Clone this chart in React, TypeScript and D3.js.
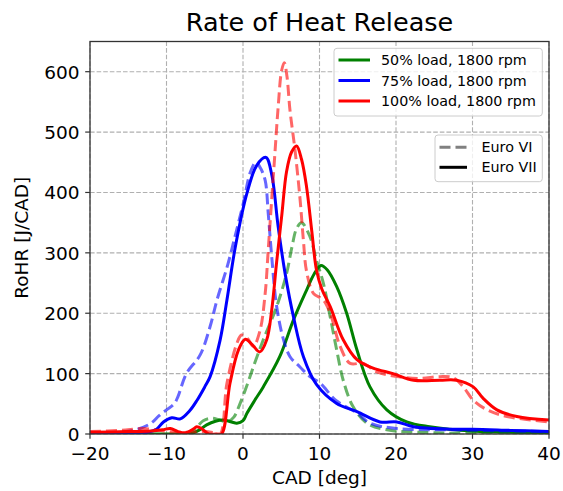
import React from "react";
import * as d3 from "d3";

// ---- data ----
const xTicks = [-20, -10, 0, 10, 20, 30, 40];
const yTicks = [0, 100, 200, 300, 400, 500, 600];

const g7Cad = [-20, -8, -6.9, -5.8, -4.75, -3.6, -2.6, -1.5, -0.8, 0, 0.5, 1.5, 2.65, 4.8, 6.6, 8.3, 9.3, 10.2, 11.0, 12.25, 13.55, 14.9, 16.6, 18.8, 21.4, 24.4, 30, 40];
const g7Val = [0, 0, 0, 6, 15, 21, 23, 20, 18, 22, 34, 55, 78, 128, 189, 238, 265, 279, 272, 244, 200, 139, 78, 40, 20, 12, 5, 2];

const g6Cad = [-20, -8, -7, -6, -5.2, -4.2, -3.2, -2.1, -1.2, -0.4, 0.5, 1.35, 2.65, 4.4, 5.7, 6.4, 7.0, 7.65, 8.75, 9.6, 10.5, 11.4, 12.25, 13.1, 14.4, 16.2, 18.8, 25, 40];
const g6Val = [0, 0, 3, 12, 22, 26, 24, 20, 28, 50, 80, 111, 156, 211, 266, 310, 340, 350, 327, 288, 250, 194, 139, 89, 45, 18, 7, 2, 0];

const b7Cad = [-20, -16, -14, -12.5, -11.3, -10.4, -9.3, -8.2, -7, -6, -5, -4.3, -3, -2.1, -1, 0.5, 1.8, 3.0, 3.75, 4.6, 5.5, 6.6, 7.9, 9.6, 12.2, 14.9, 17.9, 20.1, 22.3, 27, 30, 35, 40];
const b7Val = [2, 2, 2, 3, 8, 20, 27, 25, 38, 56, 78, 95, 155, 222, 310, 398, 445, 458, 430, 343, 266, 194, 128, 82, 51, 37, 20, 20, 12, 8, 8, 6, 4];

const b6Cad = [-20, -16, -14, -12, -11, -10, -9, -8.5, -7.4, -5.6, -4.3, -3.4, -2, -1.05, 0, 1.0, 1.7, 2.3, 2.9, 3.3, 3.75, 4.4, 5.3, 6.15, 7.45, 8.75, 10.1, 12.2, 14.9, 16.6, 20.1, 27, 35, 40];
const b6Val = [2, 3, 7, 18, 30, 40, 50, 62, 100, 131, 178, 222, 280, 327, 380, 435, 450, 440, 420, 365, 294, 211, 156, 128, 111, 95, 84, 55, 35, 18, 9, 7, 5, 4];

const r7Cad = [-20, -15, -12, -10.5, -9.5, -8.5, -7.5, -6.5, -6.05, -5.3, -4.5, -3.5, -2.8, -1.7, -0.6, 0.3, 1.2, 2.2, 3.1, 3.75, 4.4, 5.05, 5.7, 6.35, 7.0, 7.65, 8.3, 9.0, 9.6, 10.3, 11.4, 13.1, 14.9, 17.0, 19.6, 22.3, 25.75, 27.9, 30.1, 31.4, 33.2, 35.8, 40];
const r7Val = [3, 4, 5, 7, 9, 4, 2, 8, 12, 8, 0, 0, 0, 84, 139, 157, 148, 136, 156, 205, 285, 360, 435, 467, 477, 455, 410, 335, 272, 240, 211, 156, 123, 109, 100, 89, 89, 89, 78, 59, 40, 29, 23];

const r6Cad = [-20, -16, -13, -11, -9, -7, -5, -3.8, -3, -2.1, -0.8, -0.2, 0.6, 1.35, 2.2, 2.9, 3.3, 3.75, 4.2, 4.6, 5.05, 5.4, 5.75, 6.15, 6.8, 7.45, 7.9, 8.3, 9.2, 10.5, 11.4, 12.7, 14.0, 15.7, 17.5, 20.1, 23.1, 25.75, 27.5, 28.8, 30.1, 31.9, 34.5, 40];
const r6Val = [4, 6, 9, 6, 3, 3, 4, 2, 0, 84, 150, 164, 158, 145, 170, 233, 305, 388, 470, 542, 602, 615, 592, 535, 470, 390, 320, 270, 233, 222, 200, 145, 117, 117, 103, 95, 92, 95, 93, 78, 56, 40, 29, 20];

const loadLabels = ["50% load, 1800 rpm", "75% load, 1800 rpm", "100% load, 1800 rpm"];
const loadColors = ["#008000", "#0000ff", "#ff0000"];
const normLabels = ["Euro VI", "Euro VII"];

const title = "Rate of Heat Release";
const xLabel = "CAD [deg]";
const yLabel = "RoHR [J/CAD]";

// ---- layout ----
const W = 563, H = 491;
const L = 90, R = 549, T = 41.5, B = 434;
const FONT = "DejaVu Sans, sans-serif";

const x = d3.scaleLinear().domain([-20, 40]).range([L, R]);
const y = d3.scaleLinear().domain([0, 650]).range([B, T]);

const line = d3
  .line<[number, number]>()
  .x((d) => x(d[0]))
  .y((d) => y(d[1]))
  .curve(d3.curveCatmullRom.alpha(0.5));

const zip = (a: number[], b: number[]) => a.map((v, i) => [v, b[i]] as [number, number]);

const series = [
  { cad: g6Cad, val: g6Val, color: loadColors[0], dashed: true },
  { cad: g7Cad, val: g7Val, color: loadColors[0], dashed: false },
  { cad: b6Cad, val: b6Val, color: loadColors[1], dashed: true },
  { cad: b7Cad, val: b7Val, color: loadColors[1], dashed: false },
  { cad: r6Cad, val: r6Val, color: loadColors[2], dashed: true },
  { cad: r7Cad, val: r7Val, color: loadColors[2], dashed: false },
];

const fmt = (v: number) => (v < 0 ? "\u2212" + Math.abs(v) : String(v));

export default function App() {
  return (
    <svg
      width={W}
      height={H}
      style={{ position: "absolute", left: 0, top: 0, background: "#fff" }}
      fontFamily={FONT}
    >
      <rect x={0} y={0} width={W} height={H} fill="#fff" />
      <defs>
        <clipPath id="plotclip">
          <rect x={L} y={T} width={R - L} height={B - T} />
        </clipPath>
      </defs>
      {/* grid */}
      <g stroke="#b0b0b0" strokeWidth={1.1} strokeDasharray="4.6,2">
        {xTicks.map((t) => (
          <line key={"gx" + t} x1={x(t)} x2={x(t)} y1={T} y2={B} />
        ))}
        {yTicks.map((t) => (
          <line key={"gy" + t} x1={L} x2={R} y1={y(t)} y2={y(t)} />
        ))}
      </g>
      {/* curves */}
      <g clipPath="url(#plotclip)" fill="none">
        {series.map((s, i) => (
          <path
            key={i}
            d={line(zip(s.cad, s.val)) || ""}
            stroke={s.color}
            strokeWidth={3}
            strokeOpacity={s.dashed ? 0.6 : 1}
            strokeDasharray={s.dashed ? "11,5" : undefined}
            strokeLinejoin="round"
          />
        ))}
      </g>
      {/* spines */}
      <rect x={L} y={T} width={R - L} height={B - T} fill="none" stroke="#333" strokeWidth={1.3} />
      {/* x ticks */}
      <g>
        {xTicks.map((t) => (
          <g key={"xt" + t}>
            <line x1={x(t)} x2={x(t)} y1={B} y2={B + 4.8} stroke="#333" strokeWidth={1.2} />
            <text x={x(t)} y={B + 25.5} textAnchor="middle" fontSize={18.5} fill="#000">
              {fmt(t)}
            </text>
          </g>
        ))}
      </g>
      {/* y ticks */}
      <g>
        {yTicks.map((t) => (
          <g key={"yt" + t}>
            <line x1={L - 4.8} x2={L} y1={y(t)} y2={y(t)} stroke="#333" strokeWidth={1.2} />
            <text x={L - 10.5} y={y(t) + 7} textAnchor="end" fontSize={18.5} fill="#000">
              {fmt(t)}
            </text>
          </g>
        ))}
      </g>
      {/* labels */}
      <text x={(L + R) / 2} y={484} textAnchor="middle" fontSize={18.5} fill="#000">
        {xLabel}
      </text>
      <text
        transform={`translate(${28},${(T + B) / 2}) rotate(-90)`}
        textAnchor="middle"
        fontSize={18.5}
        fill="#000"
      >
        {yLabel}
      </text>
      <text x={(L + R) / 2} y={31} textAnchor="middle" fontSize={25.5} fill="#000">
        {title}
      </text>
      {/* legend 1 */}
      <g>
        <rect x={334} y={48.3} width={208.3} height={67.7} rx={3} fill="#fff" fillOpacity={0.8} stroke="#cccccc" strokeWidth={1} />
        {loadLabels.map((lab, i) => {
          const yy = 60 + i * 20.5;
          return (
            <g key={lab}>
              <line x1={338.5} x2={370} y1={yy} y2={yy} stroke={loadColors[i]} strokeWidth={3} />
              <text x={381} y={yy + 5} fontSize={14.3} fill="#000">
                {lab}
              </text>
            </g>
          );
        })}
      </g>
      {/* legend 2 */}
      <g>
        <rect x={435} y={135} width={107.3} height={46.7} rx={3} fill="#fff" fillOpacity={0.8} stroke="#cccccc" strokeWidth={1} />
        {normLabels.map((lab, i) => {
          const yy = 147.3 + i * 20;
          return (
            <g key={lab}>
              <line
                x1={439.5}
                x2={467}
                y1={yy}
                y2={yy}
                stroke={i === 0 ? "#808080" : "#000"}
                strokeWidth={3}
                strokeDasharray={i === 0 ? "11,5" : undefined}
              />
              <text x={481.5} y={yy + 5} fontSize={14.3} fill="#000">
                {lab}
              </text>
            </g>
          );
        })}
      </g>
    </svg>
  );
}
